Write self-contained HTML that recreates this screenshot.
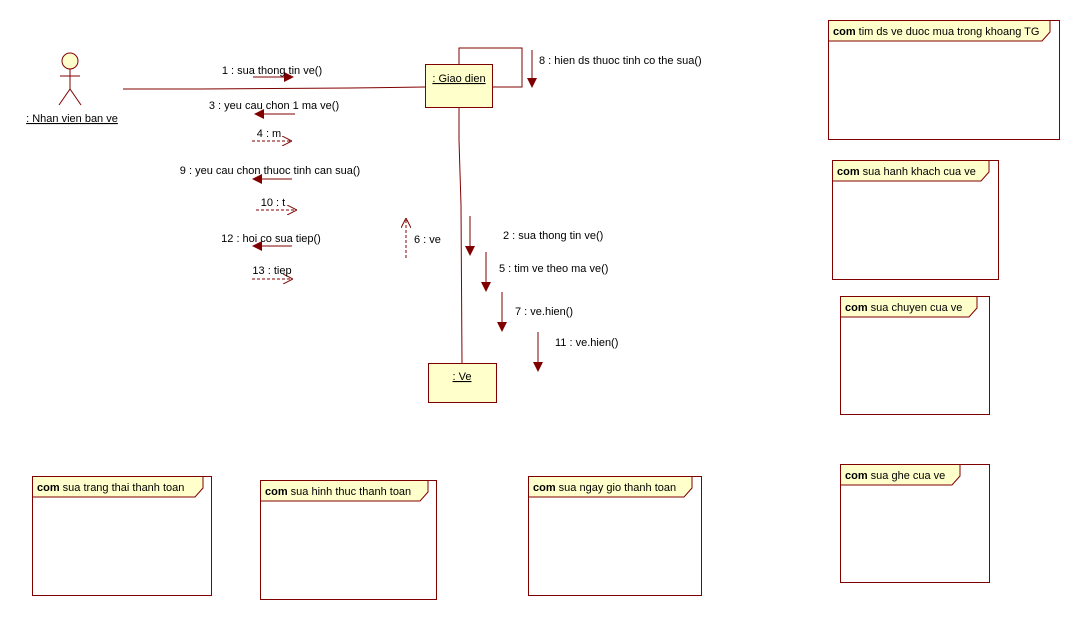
<!DOCTYPE html>
<html><head><meta charset="utf-8"><style>
html,body{margin:0;padding:0;background:#fff;}
svg text{font-family:"Liberation Sans",sans-serif;font-size:11px;fill:#000;}
</style></head><body>
<svg width="1079" height="619" viewBox="0 0 1079 619" xmlns="http://www.w3.org/2000/svg">
<defs>
<marker id="f" markerWidth="10" markerHeight="10" refX="9" refY="5" orient="auto" markerUnits="userSpaceOnUse"><path d="M0,0 L10,5 L0,10 Z" fill="#800000"/></marker>
<marker id="o" markerWidth="10" markerHeight="10" refX="9" refY="5" orient="auto" markerUnits="userSpaceOnUse"><path d="M0,0 L10,5 L0,10" fill="none" stroke="#800000" stroke-width="1"/></marker>
</defs>
<g stroke="#800000" fill="none" stroke-width="1">
<!-- actor -->
<circle cx="70" cy="61" r="8" fill="#ffffcc"/>
<line x1="70" y1="69" x2="70" y2="89"/>
<line x1="60" y1="76" x2="80" y2="76"/>
<line x1="70" y1="89" x2="59" y2="105"/>
<line x1="70" y1="89" x2="81" y2="105"/>
<!-- links -->
<polyline points="123,89 200,89 350,88 425,87"/>
<polyline points="459,64 459,48 522,48 522,87 492,87"/>
<polyline points="459,107 459,140 461,205 462,363"/>
<!-- objects -->
<rect x="425.5" y="64.5" width="67" height="43" fill="#ffffcc"/>
<rect x="428.5" y="363.5" width="68" height="39" fill="#ffffcc"/>
<!-- messages -->
<line x1="253" y1="77" x2="293" y2="77" marker-end="url(#f)"/>
<line x1="295" y1="114" x2="255" y2="114" marker-end="url(#f)"/>
<line x1="252" y1="141" x2="291" y2="141" stroke-dasharray="3,2" marker-end="url(#o)"/>
<line x1="292" y1="179" x2="253" y2="179" marker-end="url(#f)"/>
<line x1="256" y1="210" x2="296" y2="210" stroke-dasharray="3,2" marker-end="url(#o)"/>
<line x1="292" y1="246" x2="253" y2="246" marker-end="url(#f)"/>
<line x1="252" y1="279" x2="292" y2="279" stroke-dasharray="3,2" marker-end="url(#o)"/>
<line x1="406" y1="258" x2="406" y2="219" stroke-dasharray="3,2" marker-end="url(#o)"/>
<line x1="532" y1="50" x2="532" y2="87" marker-end="url(#f)"/>
<line x1="470" y1="216" x2="470" y2="255" marker-end="url(#f)"/>
<line x1="486" y1="252" x2="486" y2="291" marker-end="url(#f)"/>
<line x1="502" y1="292" x2="502" y2="331" marker-end="url(#f)"/>
<line x1="538" y1="332" x2="538" y2="371" marker-end="url(#f)"/>
<!-- frames -->
<rect x="828.5" y="20.5" width="231" height="119"/>
<polygon points="828.5,20.5 1050,20.5 1050,32 1042,41 828.5,41" fill="#ffffcc"/>
<rect x="832.5" y="160.5" width="166" height="119"/>
<polygon points="832.5,160.5 989,160.5 989,172 981,181 832.5,181" fill="#ffffcc"/>
<rect x="840.5" y="296.5" width="149" height="118"/>
<polygon points="840.5,296.5 977,296.5 977,308 969,317 840.5,317" fill="#ffffcc"/>
<rect x="840.5" y="464.5" width="149" height="118"/>
<polygon points="840.5,464.5 960,464.5 960,476 952,485 840.5,485" fill="#ffffcc"/>
<rect x="32.5" y="476.5" width="179" height="119"/>
<polygon points="32.5,476.5 203,476.5 203,488 195,497 32.5,497" fill="#ffffcc"/>
<rect x="260.5" y="480.5" width="176" height="119"/>
<polygon points="260.5,480.5 428,480.5 428,492 420,501 260.5,501" fill="#ffffcc"/>
<rect x="528.5" y="476.5" width="173" height="119"/>
<polygon points="528.5,476.5 692,476.5 692,488 684,497 528.5,497" fill="#ffffcc"/>
</g>
<g>
<text x="72" y="122" text-anchor="middle" text-decoration="underline">: Nhan vien ban ve</text>
<text x="459" y="82" text-anchor="middle" text-decoration="underline">: Giao dien</text>
<text x="462" y="380" text-anchor="middle" text-decoration="underline">: Ve</text>
<text x="272" y="74" text-anchor="middle">1 : sua thong tin ve()</text>
<text x="274" y="109" text-anchor="middle">3 : yeu cau chon 1 ma ve()</text>
<text x="269" y="137" text-anchor="middle">4 : m</text>
<text x="270" y="174" text-anchor="middle">9 : yeu cau chon thuoc tinh can sua()</text>
<text x="273" y="206" text-anchor="middle">10 : t</text>
<text x="271" y="242" text-anchor="middle">12 : hoi co sua tiep()</text>
<text x="272" y="274" text-anchor="middle">13 : tiep</text>
<text x="414" y="243">6 : ve</text>
<text x="539" y="64">8 : hien ds thuoc tinh co the sua()</text>
<text x="503" y="239">2 : sua thong tin ve()</text>
<text x="499" y="272">5 : tim ve theo ma ve()</text>
<text x="515" y="315">7 : ve.hien()</text>
<text x="555" y="346">11 : ve.hien()</text>
<text x="833" y="35"><tspan font-weight="bold">com</tspan> tim ds ve duoc mua trong khoang TG</text>
<text x="837" y="175"><tspan font-weight="bold">com</tspan> sua hanh khach cua ve</text>
<text x="845" y="311"><tspan font-weight="bold">com</tspan> sua chuyen cua ve</text>
<text x="845" y="479"><tspan font-weight="bold">com</tspan> sua ghe cua ve</text>
<text x="37" y="491"><tspan font-weight="bold">com</tspan> sua trang thai thanh toan</text>
<text x="265" y="495"><tspan font-weight="bold">com</tspan> sua hinh thuc thanh toan</text>
<text x="533" y="491"><tspan font-weight="bold">com</tspan> sua ngay gio thanh toan</text>
</g>
</svg>
</body></html>
